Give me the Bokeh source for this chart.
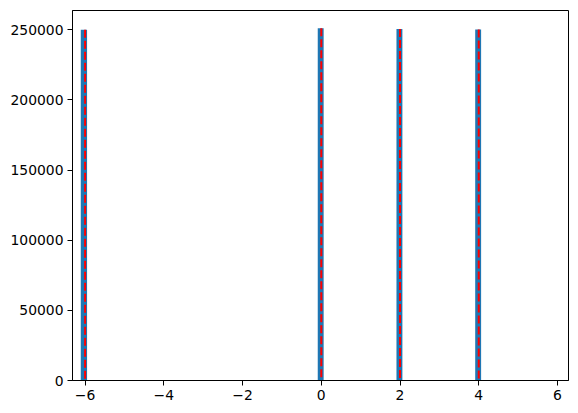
from bokeh.plotting import figure
from bokeh.models import Range1d, FixedTicker, BasicTickFormatter
from bokeh.embed import file_html
from bokeh.resources import INLINE

# Histogram data
centers = [-6, 0, 2, 4]
bin_left = [-6.11, -0.09, 1.91, 3.91]
bin_right = [-5.95, 0.06, 2.06, 4.06]
counts = [250000, 251200, 250500, 250200]

x_ticks = [-6, -4, -2, 0, 2, 4, 6]
y_ticks = [0, 50000, 100000, 150000, 200000, 250000]

p = figure(width=570, height=405, output_backend="svg", toolbar_location=None,
           x_range=Range1d(-6.32, 6.28), y_range=Range1d(0, 263770),
           min_border_left=72, min_border_right=2, min_border_top=10, min_border_bottom=25)

p.quad(left=bin_left, right=bin_right, bottom=0, top=counts,
       fill_color="#1f77b4", line_color=None)
p.segment(x0=centers, y0=counts, x1=centers, y1=[0] * len(centers),
          line_color="#ff0000", line_width=2, line_dash="8 3")

p.xgrid.visible = False
p.ygrid.visible = False
p.outline_line_color = "black"
p.outline_line_width = 1
p.background_fill_color = "white"
p.border_fill_color = "white"

p.xaxis.ticker = FixedTicker(ticks=x_ticks)
p.yaxis.ticker = FixedTicker(ticks=y_ticks)
p.xaxis.major_label_overrides = {t: (str(t).replace("-", "\u2212")) for t in x_ticks}
p.yaxis.formatter = BasicTickFormatter(use_scientific=False)

for ax in (p.xaxis[0], p.yaxis[0]):
    ax.major_tick_out = 5
    ax.major_tick_in = 0
    ax.minor_tick_out = 0
    ax.minor_tick_in = 0
    ax.axis_line_color = "black"
    ax.major_tick_line_color = "black"
    ax.major_label_text_font = "DejaVu Sans"
    ax.major_label_text_font_size = "13.9px"
    ax.major_label_text_color = "black"
    ax.major_label_standoff = 4

open("out.html", "w").write(file_html(p, INLINE))
